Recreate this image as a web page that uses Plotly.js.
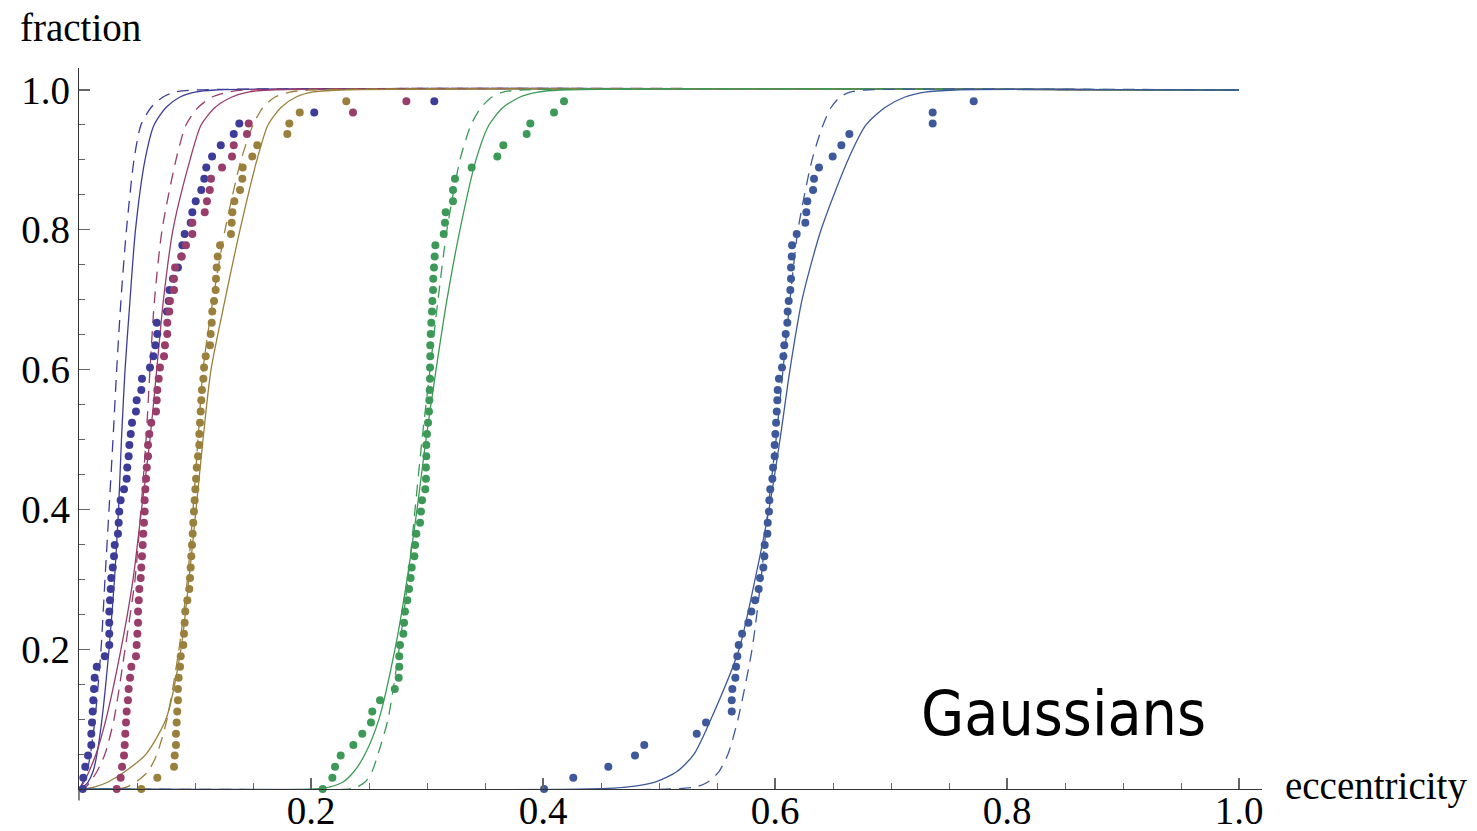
<!DOCTYPE html>
<html>
<head>
<meta charset="utf-8">
<script src="https://cdn.plot.ly/plotly-3.0.1.min.js"></script>
<style>
  html, body { margin: 0; padding: 0; background: #ffffff; }
  #chart { width: 1477px; height: 831px; }
</style>
</head>
<body>
<div id="chart"></div>
<script>
// Cumulative fraction of each sample (rank / 63), shared by all five samples
const rankFraction = [0, 0.016, 0.032, 0.048, 0.063, 0.079, 0.095, 0.111, 0.127, 0.143,
  0.159, 0.175, 0.190, 0.206, 0.222, 0.238, 0.254, 0.270, 0.286, 0.302,
  0.317, 0.333, 0.349, 0.365, 0.381, 0.397, 0.413, 0.429, 0.444, 0.460,
  0.476, 0.492, 0.508, 0.524, 0.540, 0.556, 0.571, 0.587, 0.603, 0.619,
  0.635, 0.651, 0.667, 0.683, 0.698, 0.714, 0.730, 0.746, 0.762, 0.778,
  0.794, 0.810, 0.825, 0.841, 0.857, 0.873, 0.889, 0.905, 0.921, 0.937,
  0.952, 0.968, 0.984];

// Sorted eccentricities of each sample
const eccBlue = [0.0032, 0.0037, 0.0054, 0.0078, 0.0106, 0.0106, 0.0112, 0.0118, 0.0123, 0.0129,
  0.0135, 0.0153, 0.0222, 0.0261, 0.0261, 0.0261, 0.0261, 0.0267, 0.0273, 0.0278,
  0.0291, 0.0302, 0.0308, 0.0336, 0.0342, 0.0347, 0.0359, 0.0388, 0.0411, 0.0416,
  0.0428, 0.0434, 0.0446, 0.0457, 0.0491, 0.0497, 0.0537, 0.0543, 0.0612, 0.0641,
  0.0658, 0.0675, 0.0670, 0.0758, 0.0773, 0.0780, 0.0810, 0.0853, 0.0882, 0.0891,
  0.0911, 0.0963, 0.0977, 0.1006, 0.1054, 0.1080, 0.1097, 0.1147, 0.1222, 0.1334,
  0.1382, 0.2028, 0.3063];
const eccMagenta = [0.0325, 0.0359, 0.0371, 0.0388, 0.0394, 0.0399, 0.0405, 0.0411, 0.0422, 0.0428,
  0.0440, 0.0451, 0.0491, 0.0497, 0.0503, 0.0509, 0.0509, 0.0515, 0.0520, 0.0532,
  0.0537, 0.0543, 0.0549, 0.0554, 0.0560, 0.0566, 0.0566, 0.0572, 0.0578, 0.0584,
  0.0595, 0.0595, 0.0606, 0.0623, 0.0664, 0.0670, 0.0675, 0.0687, 0.0698, 0.0733,
  0.0741, 0.0761, 0.0761, 0.0778, 0.0784, 0.0819, 0.0819, 0.0828, 0.0885, 0.0922,
  0.0977, 0.0977, 0.1084, 0.1103, 0.1127, 0.1138, 0.1233, 0.1319, 0.1334, 0.1448,
  0.1463, 0.2362, 0.2822];
const eccOlive = [0.0537, 0.0675, 0.0819, 0.0825, 0.0836, 0.0836, 0.0842, 0.0847, 0.0853, 0.0853,
  0.0859, 0.0871, 0.0877, 0.0899, 0.0905, 0.0911, 0.0916, 0.0934, 0.0951, 0.0957,
  0.0963, 0.0968, 0.0974, 0.0980, 0.0985, 0.0991, 0.0997, 0.1003, 0.1009, 0.1015,
  0.1026, 0.1037, 0.1037, 0.1043, 0.1049, 0.1054, 0.1060, 0.1072, 0.1078, 0.1092,
  0.1129, 0.1135, 0.1144, 0.1149, 0.1164, 0.1178, 0.1181, 0.1187, 0.1196, 0.1216,
  0.1310, 0.1316, 0.1322, 0.1339, 0.1388, 0.1408, 0.1411, 0.1494, 0.1537, 0.1796,
  0.1813, 0.1903, 0.2304];
const eccGreen = [0.2101, 0.2184, 0.2207, 0.2256, 0.2365, 0.2442, 0.2517, 0.2528, 0.2595, 0.2722,
  0.2756, 0.2761, 0.2761, 0.2767, 0.2796, 0.2802, 0.2810, 0.2830, 0.2845, 0.2859,
  0.2868, 0.2891, 0.2897, 0.2908, 0.2940, 0.2948, 0.2957, 0.2985, 0.2991, 0.2991,
  0.2994, 0.2994, 0.3000, 0.3009, 0.3017, 0.3020, 0.3023, 0.3026, 0.3026, 0.3028,
  0.3028, 0.3032, 0.3037, 0.3043, 0.3046, 0.3052, 0.3054, 0.3060, 0.3066, 0.3072,
  0.3144, 0.3155, 0.3161, 0.3224, 0.3224, 0.3241, 0.3385, 0.3606, 0.3658, 0.3859,
  0.3891, 0.4095, 0.4181];
const eccSteel = [0.4009, 0.4261, 0.4563, 0.4793, 0.4873, 0.5325, 0.5405, 0.5627, 0.5627, 0.5632,
  0.5658, 0.5664, 0.5675, 0.5687, 0.5716, 0.5770, 0.5796, 0.5828, 0.5859, 0.5871,
  0.5899, 0.5908, 0.5911, 0.5934, 0.5937, 0.5948, 0.5951, 0.5959, 0.5977, 0.5983,
  0.5997, 0.5997, 0.6003, 0.6009, 0.6015, 0.6020, 0.6023, 0.6034, 0.6060, 0.6072,
  0.6080, 0.6092, 0.6106, 0.6109, 0.6118, 0.6132, 0.6138, 0.6138, 0.6144, 0.6147,
  0.6187, 0.6261, 0.6270, 0.6278, 0.6328, 0.6336, 0.6379, 0.6497, 0.6572, 0.6641,
  0.7359, 0.7359, 0.7713];

// Gaussian model curves: eccentricity reached at each cumulative level
const curveLevels = [0, 0.003, 0.01, 0.025, 0.05, 0.1, 0.2, 0.3, 0.4, 0.5, 0.6, 0.7, 0.8, 0.9, 0.95, 0.975, 0.99, 0.997, 1];
const curveDomain = [0, 1];
const fitBlue       = [0.0000, 0.0034, 0.0078, 0.0121, 0.0155, 0.0198, 0.0259, 0.0306, 0.0341, 0.0366, 0.0397, 0.0440, 0.0487, 0.0569, 0.0647, 0.0750, 0.0871, 0.1000, 0.1172];
const fitBlueAlt    = [0.0000, 0.0013, 0.0034, 0.0069, 0.0099, 0.0138, 0.0190, 0.0224, 0.0259, 0.0293, 0.0325, 0.0362, 0.0409, 0.0474, 0.0534, 0.0621, 0.0724, 0.0828, 0.1000];
const fitMagenta    = [0.0000, 0.0017, 0.0043, 0.0086, 0.0147, 0.0233, 0.0362, 0.0466, 0.0539, 0.0612, 0.0670, 0.0728, 0.0810, 0.0957, 0.1052, 0.1172, 0.1319, 0.1457, 0.1647];
const fitMagentaAlt = [0.0034, 0.0060, 0.0095, 0.0155, 0.0224, 0.0302, 0.0397, 0.0483, 0.0534, 0.0578, 0.0612, 0.0651, 0.0716, 0.0836, 0.0922, 0.1026, 0.1147, 0.1284, 0.1431];
const fitOlive      = [0.0026, 0.0138, 0.0250, 0.0397, 0.0578, 0.0750, 0.0879, 0.0948, 0.1009, 0.1069, 0.1138, 0.1259, 0.1388, 0.1534, 0.1629, 0.1741, 0.1871, 0.2009, 0.2250];
const fitOliveAlt   = [0.0336, 0.0414, 0.0491, 0.0595, 0.0672, 0.0759, 0.0862, 0.0935, 0.0983, 0.1026, 0.1069, 0.1155, 0.1259, 0.1397, 0.1500, 0.1586, 0.1690, 0.1819, 0.1991];
const fitGreen      = [0.2034, 0.2164, 0.2276, 0.2371, 0.2466, 0.2586, 0.2724, 0.2828, 0.2914, 0.2991, 0.3078, 0.3172, 0.3284, 0.3422, 0.3534, 0.3655, 0.3802, 0.3957, 0.4147];
const fitGreenAlt   = [0.2336, 0.2397, 0.2466, 0.2526, 0.2578, 0.2664, 0.2759, 0.2836, 0.2897, 0.2957, 0.3026, 0.3095, 0.3172, 0.3284, 0.3379, 0.3466, 0.3560, 0.3655, 0.3802];
const fitSteel      = [0.4405, 0.4733, 0.4966, 0.5155, 0.5302, 0.5448, 0.5690, 0.5828, 0.5948, 0.6043, 0.6129, 0.6233, 0.6397, 0.6629, 0.6784, 0.6948, 0.7121, 0.7293, 0.7552];
const fitSteelAlt   = [0.5095, 0.5319, 0.5422, 0.5517, 0.5595, 0.5681, 0.5802, 0.5879, 0.5940, 0.6009, 0.6069, 0.6129, 0.6198, 0.6319, 0.6414, 0.6483, 0.6560, 0.6647, 0.6776];

const tickValues = [0.2, 0.4, 0.6, 0.8, 1.0];
const tickLabels = ['0.2', '0.4', '0.6', '0.8', '1.0'];

const samples = [
  { ecc: eccBlue,    fit: fitBlue,    alt: fitBlueAlt,    color: 'rgb(61,61,153)' },
  { ecc: eccMagenta, fit: fitMagenta, alt: fitMagentaAlt, color: 'rgb(153,61,107)' },
  { ecc: eccOlive,   fit: fitOlive,   alt: fitOliveAlt,   color: 'rgb(153,128,61)' },
  { ecc: eccGreen,   fit: fitGreen,   alt: fitGreenAlt,   color: 'rgb(61,153,87)' },
  { ecc: eccSteel,   fit: fitSteel,   alt: fitSteelAlt,   color: 'rgb(61,89,153)' }
];

// full curve over the eccentricity domain: flat at 0, rising, flat at 1
function curvePoints(xs) {
  const px = [curveDomain[0]], py = [0];
  xs.forEach((x, i) => {
    const y = curveLevels[i];
    if (x === px[px.length - 1] && y === py[py.length - 1]) return;
    px.push(x); py.push(y);
  });
  px.push(curveDomain[1]); py.push(1);
  return { x: px, y: py };
}

const traces = [];
samples.forEach(s => {
  const a = curvePoints(s.alt);
  traces.push({ x: a.x, y: a.y, type: 'scatter', mode: 'lines', hoverinfo: 'skip',
    line: { color: s.color, width: 1.3, dash: '12px,8px', shape: 'spline', smoothing: 0.7 } });
  const f = curvePoints(s.fit);
  traces.push({ x: f.x, y: f.y, type: 'scatter', mode: 'lines', hoverinfo: 'skip',
    line: { color: s.color, width: 1.3, shape: 'spline', smoothing: 0.7 } });
});
samples.forEach(s => {
  traces.push({ x: s.ecc, y: rankFraction, type: 'scatter', mode: 'markers', cliponaxis: false,
    marker: { color: s.color, size: 8, line: { width: 0 } } });
});

const serif = 'Liberation Serif, Times New Roman, serif';
const tickFont = { family: serif, size: 39, color: '#000' };

const layout = {
  width: 1477, height: 831,
  margin: { l: 79, r: 215, t: 68, b: 42, pad: 0 },
  paper_bgcolor: '#ffffff', plot_bgcolor: '#ffffff',
  showlegend: false,
  xaxis: {
    range: [0, 1.0198], showgrid: false, zeroline: false,
    showline: true, linecolor: '#333', linewidth: 1.2,
    tickmode: 'array', tickvals: tickValues, ticktext: tickLabels,
    ticks: 'inside', ticklen: 11, tickwidth: 1.2, tickcolor: '#666',
    minor: { tickmode: 'linear', tick0: 0, dtick: 0.05, ticks: 'inside', ticklen: 6, tickwidth: 1, tickcolor: '#666' },
    tickfont: tickFont, ticklabelstandoff: -13
  },
  yaxis: {
    range: [0, 1.0315], showgrid: false, zeroline: false,
    showline: true, linecolor: '#333', linewidth: 1.2,
    tickmode: 'array', tickvals: tickValues, ticktext: tickLabels,
    ticks: 'inside', ticklen: 11, tickwidth: 1.2, tickcolor: '#666',
    minor: { tickmode: 'linear', tick0: 0, dtick: 0.05, ticks: 'inside', ticklen: 6, tickwidth: 1, tickcolor: '#666' },
    tickfont: tickFont, ticklabelstandoff: 0
  },
  // vertical axis continues a little below the horizontal one
  shapes: [
    { type: 'line', xref: 'paper', yref: 'paper', x0: 0, x1: 0, y0: 0, y1: -0.016,
      line: { color: '#333', width: 1.2 } }
  ],
  annotations: [
    { text: 'fraction', xref: 'paper', yref: 'paper', x: -0.0516, y: 1.0555,
      xanchor: 'left', yanchor: 'middle', showarrow: false,
      font: { family: serif, size: 39, color: '#000' } },
    { text: 'eccentricity', xref: 'paper', yref: 'paper', x: 1.0175, y: 0.004,
      xanchor: 'left', yanchor: 'middle', showarrow: false,
      font: { family: serif, size: 39, color: '#000' } },
    { text: 'Gaussians', xref: 'paper', yref: 'paper', x: 0.710, y: 0.1054,
      xanchor: 'left', yanchor: 'middle', showarrow: false,
      font: { family: 'DejaVu Sans Condensed, DejaVu Sans, sans-serif', size: 62, color: '#000' } }
  ]
};

Plotly.newPlot('chart', traces, layout, { staticPlot: true, displayModeBar: false });
</script>
</body>
</html>
